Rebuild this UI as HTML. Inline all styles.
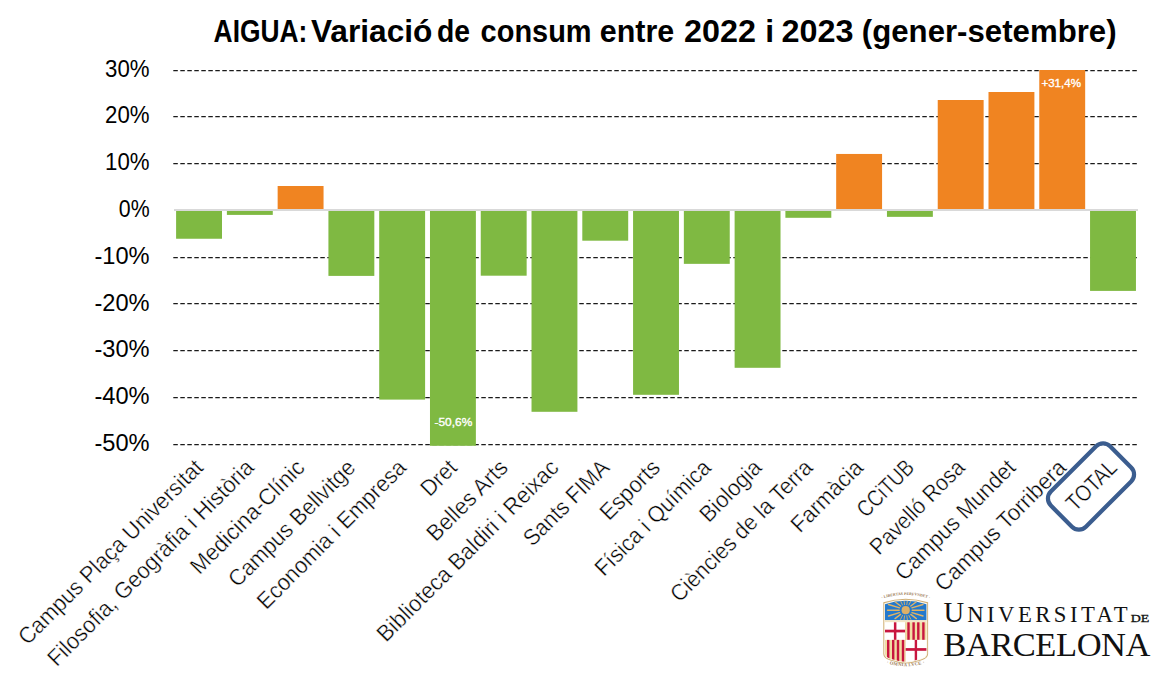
<!DOCTYPE html><html><head><meta charset="utf-8"><style>html,body{margin:0;padding:0;background:#fff;}svg{display:block;}</style></head><body>
<svg width="1170" height="690" viewBox="0 0 1170 690">
<rect width="1170" height="690" fill="#fff"/>
<text y="42" font-family="Liberation Sans, Arial, sans-serif" font-weight="bold" font-size="31.8" fill="#000">
<tspan x="213.6" textLength="93.7" lengthAdjust="spacingAndGlyphs">AIGUA:</tspan>
<tspan x="311.0" textLength="121.4" lengthAdjust="spacingAndGlyphs">Variació</tspan>
<tspan x="436.9" textLength="33.1" lengthAdjust="spacingAndGlyphs">de</tspan>
<tspan x="480.6" textLength="111.0" lengthAdjust="spacingAndGlyphs">consum</tspan>
<tspan x="599.8" textLength="74.4" lengthAdjust="spacingAndGlyphs">entre</tspan>
<tspan x="684.0" textLength="71.9" lengthAdjust="spacingAndGlyphs">2022</tspan>
<tspan x="765.2">i</tspan>
<tspan x="781.4" textLength="72.0" lengthAdjust="spacingAndGlyphs">2023</tspan>
<tspan x="861.8" textLength="254.8" lengthAdjust="spacingAndGlyphs">(gener-setembre)</tspan>
</text>
<line x1="173.3" y1="70.6" x2="1137.5" y2="70.6" stroke="#1a1a1a" stroke-width="1.15" stroke-dasharray="4.5 2.5"/>
<line x1="173.3" y1="116.6" x2="1137.5" y2="116.6" stroke="#1a1a1a" stroke-width="1.15" stroke-dasharray="4.5 2.5"/>
<line x1="173.3" y1="163.6" x2="1137.5" y2="163.6" stroke="#1a1a1a" stroke-width="1.15" stroke-dasharray="4.5 2.5"/>
<line x1="173.3" y1="257.6" x2="1137.5" y2="257.6" stroke="#1a1a1a" stroke-width="1.15" stroke-dasharray="4.5 2.5"/>
<line x1="173.3" y1="303.6" x2="1137.5" y2="303.6" stroke="#1a1a1a" stroke-width="1.15" stroke-dasharray="4.5 2.5"/>
<line x1="173.3" y1="350.6" x2="1137.5" y2="350.6" stroke="#1a1a1a" stroke-width="1.15" stroke-dasharray="4.5 2.5"/>
<line x1="173.3" y1="397.6" x2="1137.5" y2="397.6" stroke="#1a1a1a" stroke-width="1.15" stroke-dasharray="4.5 2.5"/>
<line x1="173.3" y1="444.6" x2="1137.5" y2="444.6" stroke="#1a1a1a" stroke-width="1.15" stroke-dasharray="4.5 2.5"/>
<rect x="176.10" y="210.00" width="45.9" height="28.75" fill="#7FB942"/>
<rect x="226.88" y="210.00" width="45.9" height="4.90" fill="#7FB942"/>
<rect x="277.65" y="186.00" width="45.9" height="24.00" fill="#F08421"/>
<rect x="328.42" y="210.00" width="45.9" height="65.90" fill="#7FB942"/>
<rect x="379.20" y="210.00" width="45.9" height="189.60" fill="#7FB942"/>
<rect x="429.98" y="210.00" width="45.9" height="235.80" fill="#7FB942"/>
<rect x="480.75" y="210.00" width="45.9" height="65.70" fill="#7FB942"/>
<rect x="531.52" y="210.00" width="45.9" height="201.80" fill="#7FB942"/>
<rect x="582.30" y="210.00" width="45.9" height="30.70" fill="#7FB942"/>
<rect x="633.07" y="210.00" width="45.9" height="184.80" fill="#7FB942"/>
<rect x="683.85" y="210.00" width="45.9" height="53.85" fill="#7FB942"/>
<rect x="734.62" y="210.00" width="45.9" height="157.80" fill="#7FB942"/>
<rect x="785.40" y="210.00" width="45.9" height="7.80" fill="#7FB942"/>
<rect x="836.17" y="153.95" width="45.9" height="56.05" fill="#F08421"/>
<rect x="886.95" y="210.00" width="45.9" height="6.85" fill="#7FB942"/>
<rect x="937.73" y="100.00" width="45.9" height="110.00" fill="#F08421"/>
<rect x="988.50" y="92.00" width="45.9" height="118.00" fill="#F08421"/>
<rect x="1039.27" y="70.00" width="45.9" height="140.00" fill="#F08421"/>
<rect x="1090.05" y="210.00" width="45.9" height="80.90" fill="#7FB942"/>
<rect x="174" y="209" width="964" height="2" fill="#D9D9D9"/>
<text x="149.6" y="77.0" text-anchor="end" font-family="Liberation Sans, Arial, sans-serif" font-size="23.7" fill="#000" textLength="44.5" lengthAdjust="spacingAndGlyphs">30%</text>
<text x="149.6" y="123.0" text-anchor="end" font-family="Liberation Sans, Arial, sans-serif" font-size="23.7" fill="#000" textLength="44.5" lengthAdjust="spacingAndGlyphs">20%</text>
<text x="149.6" y="170.0" text-anchor="end" font-family="Liberation Sans, Arial, sans-serif" font-size="23.7" fill="#000" textLength="44.5" lengthAdjust="spacingAndGlyphs">10%</text>
<text x="149.6" y="217.0" text-anchor="end" font-family="Liberation Sans, Arial, sans-serif" font-size="23.7" fill="#000" textLength="30.8" lengthAdjust="spacingAndGlyphs">0%</text>
<text x="149.6" y="264.0" text-anchor="end" font-family="Liberation Sans, Arial, sans-serif" font-size="23.7" fill="#000" textLength="55.2" lengthAdjust="spacingAndGlyphs">-10%</text>
<text x="149.6" y="310.5" text-anchor="end" font-family="Liberation Sans, Arial, sans-serif" font-size="23.7" fill="#000" textLength="55.2" lengthAdjust="spacingAndGlyphs">-20%</text>
<text x="149.6" y="357.0" text-anchor="end" font-family="Liberation Sans, Arial, sans-serif" font-size="23.7" fill="#000" textLength="55.2" lengthAdjust="spacingAndGlyphs">-30%</text>
<text x="149.6" y="404.0" text-anchor="end" font-family="Liberation Sans, Arial, sans-serif" font-size="23.7" fill="#000" textLength="55.2" lengthAdjust="spacingAndGlyphs">-40%</text>
<text x="149.6" y="451.0" text-anchor="end" font-family="Liberation Sans, Arial, sans-serif" font-size="23.7" fill="#000" textLength="55.2" lengthAdjust="spacingAndGlyphs">-50%</text>
<text x="1041.4" y="87" font-family="Liberation Sans, Arial, sans-serif" font-size="11.4" fill="#fff" stroke="#fff" stroke-width="0.35" textLength="39.6" lengthAdjust="spacingAndGlyphs">+31,4%</text>
<text x="434.5" y="426" font-family="Liberation Sans, Arial, sans-serif" font-size="11.4" fill="#fff" stroke="#fff" stroke-width="0.35" textLength="37.8" lengthAdjust="spacingAndGlyphs">-50,6%</text>
<text class="cl" x="204.5" y="469" text-anchor="end" font-family="Liberation Sans, Arial, sans-serif" font-size="23" fill="#000" stroke="#fff" stroke-width="0.4" textLength="250.3" lengthAdjust="spacingAndGlyphs" transform="rotate(-45 204.5 469)">Campus Plaça Universitat</text>
<text class="cl" x="255.3" y="469" text-anchor="end" font-family="Liberation Sans, Arial, sans-serif" font-size="23" fill="#000" stroke="#fff" stroke-width="0.4" textLength="280.9" lengthAdjust="spacingAndGlyphs" transform="rotate(-45 255.3 469)">Filosofia, Geogràfia i Història</text>
<text class="cl" x="306.1" y="469" text-anchor="end" font-family="Liberation Sans, Arial, sans-serif" font-size="23" fill="#000" stroke="#fff" stroke-width="0.4" textLength="150.7" lengthAdjust="spacingAndGlyphs" transform="rotate(-45 306.1 469)">Medicina-Clínic</text>
<text class="cl" x="356.9" y="469" text-anchor="end" font-family="Liberation Sans, Arial, sans-serif" font-size="23" fill="#000" stroke="#fff" stroke-width="0.4" textLength="168.7" lengthAdjust="spacingAndGlyphs" transform="rotate(-45 356.9 469)">Campus Bellvitge</text>
<text class="cl" x="407.6" y="469" text-anchor="end" font-family="Liberation Sans, Arial, sans-serif" font-size="23" fill="#000" stroke="#fff" stroke-width="0.4" textLength="199.95" lengthAdjust="spacingAndGlyphs" transform="rotate(-45 407.6 469)">Economia i Empresa</text>
<text class="cl" x="458.4" y="469" text-anchor="end" font-family="Liberation Sans, Arial, sans-serif" font-size="23" fill="#000" stroke="#fff" stroke-width="0.4" textLength="40.4" lengthAdjust="spacingAndGlyphs" transform="rotate(-45 458.4 469)">Dret</text>
<text class="cl" x="509.2" y="469" text-anchor="end" font-family="Liberation Sans, Arial, sans-serif" font-size="23" fill="#000" stroke="#fff" stroke-width="0.4" textLength="103.8" lengthAdjust="spacingAndGlyphs" transform="rotate(-45 509.2 469)">Belles Arts</text>
<text class="cl" x="560.0" y="469" text-anchor="end" font-family="Liberation Sans, Arial, sans-serif" font-size="23" fill="#000" stroke="#fff" stroke-width="0.4" textLength="246.1" lengthAdjust="spacingAndGlyphs" transform="rotate(-45 560.0 469)">Biblioteca Baldiri i Reixac</text>
<text class="cl" x="610.8" y="469" text-anchor="end" font-family="Liberation Sans, Arial, sans-serif" font-size="23" fill="#000" stroke="#fff" stroke-width="0.4" textLength="110.6" lengthAdjust="spacingAndGlyphs" transform="rotate(-45 610.8 469)">Sants FIMA</text>
<text class="cl" x="661.5" y="469" text-anchor="end" font-family="Liberation Sans, Arial, sans-serif" font-size="23" fill="#000" stroke="#fff" stroke-width="0.4" textLength="74.2" lengthAdjust="spacingAndGlyphs" transform="rotate(-45 661.5 469)">Esports</text>
<text class="cl" x="712.3" y="469" text-anchor="end" font-family="Liberation Sans, Arial, sans-serif" font-size="23" fill="#000" stroke="#fff" stroke-width="0.4" textLength="153.0" lengthAdjust="spacingAndGlyphs" transform="rotate(-45 712.3 469)">Física i Química</text>
<text class="cl" x="763.1" y="469" text-anchor="end" font-family="Liberation Sans, Arial, sans-serif" font-size="23" fill="#000" stroke="#fff" stroke-width="0.4" textLength="77.0" lengthAdjust="spacingAndGlyphs" transform="rotate(-45 763.1 469)">Biologia</text>
<text class="cl" x="813.9" y="469" text-anchor="end" font-family="Liberation Sans, Arial, sans-serif" font-size="23" fill="#000" stroke="#fff" stroke-width="0.4" textLength="189.9" lengthAdjust="spacingAndGlyphs" transform="rotate(-45 813.9 469)">Ciències de la Terra</text>
<text class="cl" x="864.6" y="469" text-anchor="end" font-family="Liberation Sans, Arial, sans-serif" font-size="23" fill="#000" stroke="#fff" stroke-width="0.4" textLength="91.4" lengthAdjust="spacingAndGlyphs" transform="rotate(-45 864.6 469)">Farmàcia</text>
<text class="cl" x="915.4" y="469" text-anchor="end" font-family="Liberation Sans, Arial, sans-serif" font-size="23" fill="#000" stroke="#fff" stroke-width="0.4" textLength="69.9" lengthAdjust="spacingAndGlyphs" transform="rotate(-45 915.4 469)">CCiTUB</text>
<text class="cl" x="966.2" y="469" text-anchor="end" font-family="Liberation Sans, Arial, sans-serif" font-size="23" fill="#000" stroke="#fff" stroke-width="0.4" textLength="123.2" lengthAdjust="spacingAndGlyphs" transform="rotate(-45 966.2 469)">Pavelló Rosa</text>
<text class="cl" x="1017.0" y="469" text-anchor="end" font-family="Liberation Sans, Arial, sans-serif" font-size="23" fill="#000" stroke="#fff" stroke-width="0.4" textLength="159.5" lengthAdjust="spacingAndGlyphs" transform="rotate(-45 1017.0 469)">Campus Mundet</text>
<text class="cl" x="1067.7" y="469" text-anchor="end" font-family="Liberation Sans, Arial, sans-serif" font-size="23" fill="#000" stroke="#fff" stroke-width="0.4" textLength="174.9" lengthAdjust="spacingAndGlyphs" transform="rotate(-45 1067.7 469)">Campus Torribera</text>
<text class="cl" x="1118.5" y="469" text-anchor="end" font-family="Liberation Sans, Arial, sans-serif" font-size="23" fill="#000" stroke="#fff" stroke-width="0.4" textLength="61.2" lengthAdjust="spacingAndGlyphs" transform="rotate(-45 1118.5 469)">TOTAL</text>
<g transform="translate(1091 486.5) rotate(-45)"><rect x="-41.9" y="-24.8" width="83.8" height="49.6" rx="9.9" ry="9.9" fill="none" stroke="#3B5D8F" stroke-width="4.2"/></g>
<g id="ub-logo">
<defs>
<clipPath id="shin"><path d="M885 604.2 Q905.7 597.4 926.4 604.2 L926.4 653.5 Q926.4 657 920 659 Q912 661.6 905.7 661.8 Q899.4 661.6 891.4 659 Q885 657 885 653.5 Z"/></clipPath>
<path id="arcTop" d="M881.5 598.8 Q905.7 591 930 598.8"/>
<path id="arcBot" d="M887 663.5 Q905.7 669 924.5 663.5"/>
</defs>
<path d="M883.3 602.2 Q905.7 595.2 928.1 602.2 L928.1 654 Q928.1 658.3 921 660.6 Q912.5 663.4 905.7 663.6 Q898.9 663.4 890.4 660.6 Q883.3 658.3 883.3 654 Z" fill="#CFAE74"/>
<path d="M884.2 603.2 Q905.7 596.4 927.2 603.2 L927.2 653.8 Q927.2 657.6 920.5 659.8 Q912.2 662.5 905.7 662.7 Q899.2 662.5 890.9 659.8 Q884.2 657.6 884.2 653.8 Z" fill="#FBF6EA"/>
<g clip-path="url(#shin)">
<rect x="884" y="596" width="44" height="24.2" fill="#2479CC"/>
<g stroke="#E2B363" stroke-width="1.35" stroke-linecap="round">
<line x1="899.2" y1="610.2" x2="887.5" y2="610.2"/><line x1="912.2" y1="610.2" x2="924" y2="610.2"/>
<line x1="899.5" y1="607.8" x2="888.5" y2="604.5"/><line x1="911.9" y1="607.8" x2="923" y2="604.5"/>
<line x1="899.5" y1="612.6" x2="888.5" y2="616"/><line x1="911.9" y1="612.6" x2="923" y2="616"/>
<line x1="900.6" y1="606" x2="895" y2="601.8"/><line x1="910.8" y1="606" x2="916.4" y2="601.8"/>
<line x1="900.6" y1="614.4" x2="895" y2="618.6"/><line x1="910.8" y1="614.4" x2="916.4" y2="618.6"/>
</g>
<g stroke="#E2B363" stroke-width="0.85" stroke-linecap="round">
<line x1="902.5" y1="605" x2="900.5" y2="600.8"/><line x1="904.6" y1="604.6" x2="904" y2="600.4"/><line x1="906.8" y1="604.6" x2="907.4" y2="600.4"/><line x1="908.9" y1="605" x2="910.9" y2="600.8"/>
<line x1="902.5" y1="615.4" x2="900.5" y2="619.4"/><line x1="904.6" y1="615.8" x2="904" y2="619.8"/><line x1="906.8" y1="615.8" x2="907.4" y2="619.8"/><line x1="908.9" y1="615.4" x2="910.9" y2="619.4"/>
</g>
<circle cx="905.7" cy="610.2" r="4.1" fill="#DDB068"/>
<rect x="884" y="620.2" width="44" height="2.1" fill="#F3E6C6"/>
<rect x="884" y="622.3" width="21.3" height="17.6" fill="#FFFFFF"/>
<rect x="893.9" y="622.3" width="2.5" height="17.6" fill="#C8163F"/>
<rect x="884" y="629.7" width="21.3" height="2.7" fill="#C8163F"/>
<rect x="905.3" y="622.3" width="23" height="17.6" fill="#F1DDA3"/>
<rect x="907.3" y="622.3" width="2.4" height="17.6" fill="#C8163F"/>
<rect x="912.4" y="622.3" width="2.4" height="17.6" fill="#C8163F"/>
<rect x="917.1" y="622.3" width="2.4" height="17.6" fill="#C8163F"/>
<rect x="922.2" y="622.3" width="2.4" height="17.6" fill="#C8163F"/>
<rect x="884" y="639.9" width="21.3" height="24" fill="#F1DDA3"/>
<rect x="887" y="639.9" width="2.4" height="24" fill="#C8163F"/>
<rect x="892" y="639.9" width="2.4" height="24" fill="#C8163F"/>
<rect x="896.8" y="639.9" width="2.4" height="24" fill="#C8163F"/>
<rect x="901.8" y="639.9" width="2.4" height="24" fill="#C8163F"/>
<rect x="905.3" y="639.9" width="23" height="24" fill="#FFFFFF"/>
<rect x="914.7" y="639.9" width="2.4" height="24" fill="#C8163F"/>
<rect x="905.3" y="648.1" width="23" height="2.7" fill="#C8163F"/>
<rect x="905" y="622.3" width="0.6" height="42" fill="#E6CE9C"/>
</g>
<text font-family="Liberation Serif, serif" font-size="3.9" font-weight="bold" fill="#9A7A55" letter-spacing="0"><textPath href="#arcTop" startOffset="50%" text-anchor="middle">· LIBERTAS PERFVNDET ·</textPath></text>
<text font-family="Liberation Serif, serif" font-size="4.6" font-weight="bold" fill="#9A7A55" letter-spacing="0.3"><textPath href="#arcBot" startOffset="50%" text-anchor="middle">· OMNIA LVCE ·</textPath></text>
<text x="943.5" y="622" font-family="Liberation Serif, serif" font-size="28.7" fill="#111">U</text>
<text x="967.2" y="622" font-family="Liberation Serif, serif" font-size="22.7" fill="#111" textLength="160.5" lengthAdjust="spacing">NIVERSITAT</text>
<text x="1130.8" y="622" font-family="Liberation Serif, serif" font-size="11.4" fill="#111" stroke="#111" stroke-width="0.3" textLength="18.6" lengthAdjust="spacingAndGlyphs">DE</text>
<text x="943.2" y="655.5" font-family="Liberation Serif, serif" font-size="34.5" fill="#111" textLength="207.3" lengthAdjust="spacing">BARCELONA</text>
</g>

</svg></body></html>
